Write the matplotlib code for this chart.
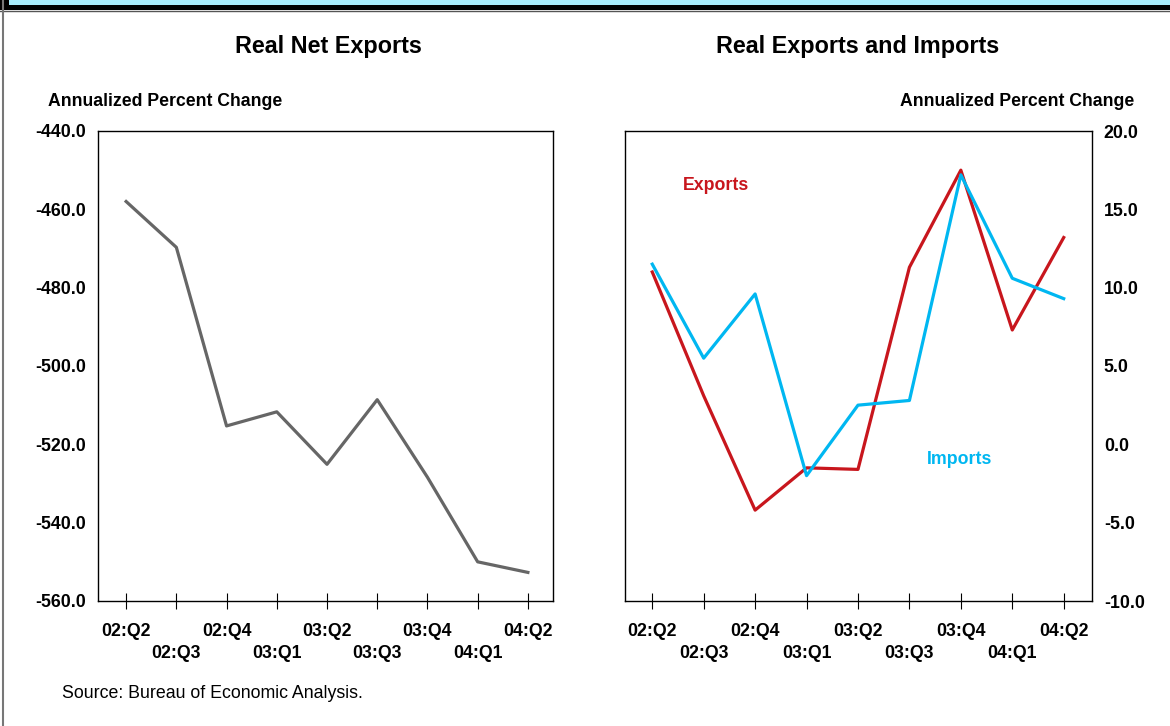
import matplotlib
matplotlib.use("Agg")
import matplotlib.pyplot as plt
from matplotlib.patches import Rectangle
from matplotlib.lines import Line2D

plt.rcParams["font.family"] = ["Liberation Sans", "DejaVu Sans"]

quarters = ["02:Q2", "02:Q3", "02:Q4", "03:Q1", "03:Q2", "03:Q3", "03:Q4", "04:Q1", "04:Q2"]
net_exports = [-458.0, -469.7, -515.3, -511.7, -525.1, -508.6, -528.4, -550.0, -552.7]
exports = [11.0, 3.1, -4.2, -1.5, -1.6, 11.3, 17.5, 7.3, 13.2]
imports = [11.5, 5.5, 9.6, -2.0, 2.5, 2.8, 17.2, 10.6, 9.3]

W, H = 1170, 726
fig = plt.figure(figsize=(W / 100, H / 100), dpi=100)


def box(x0, y0, x1, y1):
    # pixel box -> figure fraction rect
    return [x0 / W, 1 - y1 / H, (x1 - x0) / W, (y1 - y0) / H]


# frame decoration at top and left
fig.patches.append(Rectangle((0, 1 - 10 / H), 1, 10 / H, transform=fig.transFigure,
                             facecolor="black", edgecolor="none"))
fig.patches.append(Rectangle((9 / W, 1 - 4.5 / H), 1, 4.5 / H, transform=fig.transFigure,
                             facecolor="#a8ecfb", edgecolor="none"))
fig.lines.append(Line2D([0, 1], [1 - 10.5 / H] * 2, transform=fig.transFigure,
                        color="#555555", lw=1))
fig.lines.append(Line2D([2.5 / W] * 2, [0, 1], transform=fig.transFigure,
                        color="#777777", lw=1.5))

x = list(range(len(quarters)))
lbl_font = dict(fontsize=12.8, fontweight="bold")


def setup(ax):
    ax.set_xlim(-0.56, 8.5)
    ax.set_xticks(x)
    ax.set_xticklabels([])
    ax.tick_params(axis="x", direction="inout", length=11, width=0.8)
    ax.tick_params(axis="y", length=0, pad=8.5)
    for s in ax.spines.values():
        s.set_linewidth(1.0)
    for i, q in enumerate(quarters):
        ax.annotate(q, (i, 0), xycoords=("data", "axes fraction"),
                    xytext=(0, -31 if i % 2 == 0 else -52), textcoords="offset pixels",
                    ha="center", va="center", **lbl_font)


# left panel
ax1 = fig.add_axes(box(98, 131, 553, 601))
ax1.plot(x, net_exports, color="#666666", lw=2.3)
ax1.set_ylim(-560, -440)
ax1.set_yticks([-440, -460, -480, -500, -520, -540, -560])
ax1.set_yticklabels([f"{v:.1f}" for v in ax1.get_yticks()], **lbl_font)
setup(ax1)

# right panel
ax2 = fig.add_axes(box(625, 131, 1092, 601))
ax2.plot(x, exports, color="#c8161d", lw=2.3)
ax2.plot(x, imports, color="#00b7f1", lw=2.3)
ax2.set_ylim(-10, 20)
ax2.set_yticks([20, 15, 10, 5, 0, -5, -10])
ax2.yaxis.tick_right()
ax2.set_yticklabels([f"{v:.1f}" for v in ax2.get_yticks()], **lbl_font)
setup(ax2)
ax2.set_xlim(-0.53, 8.55)
ax2.text(1.23, 16.55, "Exports", color="#c8161d", ha="center", va="center", **lbl_font)
ax2.text(5.97, -1.0, "Imports", color="#00b7f1", ha="center", va="center", **lbl_font)

# titles and axis captions
fig.text(328 / W, 1 - 46 / H, "Real Net Exports", ha="center", va="center",
         fontsize=16.8, fontweight="bold")
fig.text(858 / W, 1 - 46 / H, "Real Exports and Imports", ha="center", va="center",
         fontsize=16.8, fontweight="bold")
fig.text(48 / W, 1 - 101 / H, "Annualized Percent Change", ha="left", va="center",
         fontsize=12.7, fontweight="bold")
fig.text(1134 / W, 1 - 101 / H, "Annualized Percent Change", ha="right", va="center",
         fontsize=12.7, fontweight="bold")
fig.text(62 / W, 1 - 693 / H, "Source: Bureau of Economic Analysis.", ha="left",
         va="center", fontsize=12.8)

fig.savefig("out.png", dpi=100)
